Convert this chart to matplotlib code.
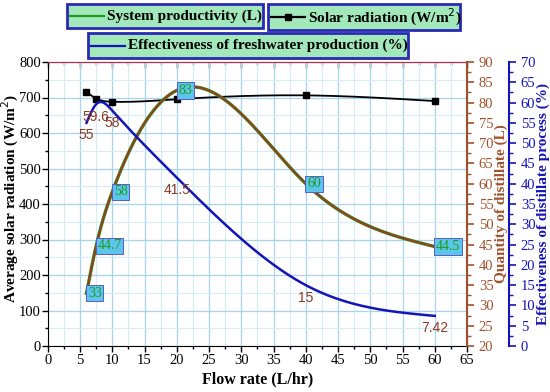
import numpy as np
import matplotlib
matplotlib.use("Agg")
import matplotlib.pyplot as plt
from matplotlib.lines import Line2D
from matplotlib.patches import Rectangle
from matplotlib.ticker import MultipleLocator, NullFormatter

flow = [6, 7.5, 10, 20, 40, 60]
solar = [716, 697, 688, 695, 706, 690]
productivity = [33, 44.7, 58, 83, 60, 44.5]
prod_labels = ["33", "44.7", "58", "83", "60", "44.5"]
effectiveness = [55, 59.6, 58, 41.5, 15, 7.42]
eff_labels = ["55", "59.6", "58", "41.5", "15", "7.42"]

legend_texts = ["System productivity (L)", "Solar radiation (W/m$^{2}$)",
                "Effectiveness of freshwater production (%)"]


def natural_spline(x, y, xs):
    x = np.asarray(x, float); y = np.asarray(y, float)
    n = len(x)
    h = np.diff(x)
    A = np.zeros((n, n)); b = np.zeros(n)
    A[0, 0] = 1; A[-1, -1] = 1
    for i in range(1, n - 1):
        A[i, i - 1] = h[i - 1]
        A[i, i] = 2 * (h[i - 1] + h[i])
        A[i, i + 1] = h[i]
        b[i] = 6 * ((y[i + 1] - y[i]) / h[i] - (y[i] - y[i - 1]) / h[i - 1])
    M = np.linalg.solve(A, b)
    out = np.empty_like(xs)
    for k, xv in enumerate(xs):
        i = min(max(np.searchsorted(x, xv) - 1, 0), n - 2)
        t1 = x[i + 1] - xv; t0 = xv - x[i]
        out[k] = (M[i] * t1 ** 3 + M[i + 1] * t0 ** 3) / (6 * h[i]) \
            + (y[i] / h[i] - M[i] * h[i] / 6) * t1 \
            + (y[i + 1] / h[i] - M[i + 1] * h[i] / 6) * t0
    return out


serif = "Liberation Serif"
brown = "#a0522d"
brown_txt = "#8b3a22"
blue = "#1414b8"
green = "#1f9a1f"

fig = plt.figure(figsize=(5.5, 3.92), dpi=100)
L, R, B, T = 47.8 / 550, 467 / 550, 1 - 346 / 392, 1 - 62 / 392
ax = fig.add_axes([L, B, R - L, T - B])
ax2 = ax.twinx()
ax3 = ax.twinx()
ax3.spines["right"].set_position(("axes", (509 - 47.8) / (467 - 47.8)))

ax.set_xlim(0, 65)
ax.set_ylim(0, 800)
ax2.set_ylim(20, 90)
ax3.set_ylim(0, 70)

# grid
ax.xaxis.set_major_locator(MultipleLocator(5))
ax.xaxis.set_minor_locator(MultipleLocator(2.5))
ax.yaxis.set_major_locator(MultipleLocator(100))
ax.yaxis.set_minor_locator(MultipleLocator(50))
ax.grid(which="major", color="#a9d2ee", lw=0.9)
ax.grid(which="minor", color="#d6edf9", lw=0.8)
ax.set_axisbelow(True)

xs = np.linspace(6, 60, 400)
# solar radiation
ax.plot(xs, natural_spline(flow, solar, xs), color="black", lw=1.3, zorder=3)
ax.plot(flow, solar, ls="none", marker="s", ms=5, color="black", zorder=4)

# productivity
py = natural_spline(flow, productivity, xs)
ax2.plot(xs, py, color=green, lw=2.4, zorder=3)
ax2.plot(xs, py, color="#9a3d1e", lw=1.5, zorder=3)
for xv, yv, lab in zip(flow, productivity, prod_labels):
    ax2.annotate(lab, (xv, yv), xytext=(1, 0), textcoords="offset points",
                 ha="left", va="center", fontsize=10, family=serif, color=green,
                 bbox=dict(boxstyle="square,pad=0.12", fc="#5cc6ea", ec="#5a5ac8", lw=0.7),
                 zorder=6)

# effectiveness
ax3.plot(xs, natural_spline(flow, effectiveness, xs), color=blue, lw=1.8, zorder=3)
for xv, yv, lab in zip(flow, effectiveness, eff_labels):
    ax3.annotate(lab, (xv, yv), xytext=(0, -9), textcoords="offset points",
                 ha="center", va="center", fontsize=10, family="Liberation Sans",
                 color=brown_txt, zorder=6)

# spines / ticks
for a in (ax, ax2, ax3):
    a.patch.set_visible(False)
ax.spines["top"].set_color("#b03050")
ax.spines["left"].set_color("black")
ax.spines["bottom"].set_color("black")
ax.tick_params(axis="x", which="major", direction="out", length=4, width=1, labelsize=10.5, pad=2)
ax.tick_params(axis="x", which="minor", direction="out", length=2.5, width=1)
ax.tick_params(axis="y", which="major", direction="out", length=4, width=1, labelsize=10.5, pad=1)
ax.tick_params(axis="y", which="minor", direction="out", length=2.5, width=1)
for lab in ax.get_xticklabels() + ax.get_yticklabels():
    lab.set_family(serif)

top = ax.secondary_xaxis("top")
top.xaxis.set_major_locator(MultipleLocator(5))
top.xaxis.set_minor_locator(MultipleLocator(2.5))
top.xaxis.set_major_formatter(NullFormatter())
top.spines["top"].set_color("#b03050")
top.tick_params(axis="x", which="major", direction="in", length=4, width=1, color="black")
top.tick_params(axis="x", which="minor", direction="in", length=2.5, width=1, color="black")

ax2.spines["right"].set_color(brown)
ax2.spines["right"].set_linewidth(1.5)
ax2.yaxis.set_major_locator(MultipleLocator(5))
ax2.yaxis.set_minor_locator(MultipleLocator(2.5))
ax2.tick_params(axis="y", which="major", colors=brown, length=5, width=1.2, labelsize=10.5)
ax2.tick_params(axis="y", which="minor", colors=brown, length=3, width=1)
for lab in ax2.get_yticklabels():
    lab.set_family(serif)

ax3.spines["right"].set_color(blue)
ax3.spines["right"].set_linewidth(1.5)
ax3.yaxis.set_major_locator(MultipleLocator(5))
ax3.yaxis.set_minor_locator(MultipleLocator(2.5))
ax3.tick_params(axis="y", which="major", colors=blue, length=5, width=1.2, labelsize=10.5)
ax3.tick_params(axis="y", which="minor", colors=blue, length=3, width=1)
for lab in ax3.get_yticklabels():
    lab.set_family(serif)
for a in (ax2, ax3):
    a.spines["top"].set_visible(False)
    a.spines["left"].set_visible(False)
    a.spines["bottom"].set_visible(False)

ax.set_xlabel("Flow rate (L/hr)", family=serif, fontweight="bold", fontsize=11.5, labelpad=3)
ax.set_ylabel("Average solar radiation (W/m$^{2}$)", family=serif, fontweight="bold", fontsize=11)
ax.yaxis.set_label_coords((21 - 47.8) / 419.2, 0.52)
ax2.set_ylabel("Quantity of distillate (L)", family=serif, fontweight="bold", fontsize=11,
               color=brown, labelpad=1)
ax3.set_ylabel("Effectiveness of distillate process (%)", family=serif, fontweight="bold",
               fontsize=11, color=blue, labelpad=1)

# legend boxes (figure pixel coords -> fractions)
W, H = 550, 392


def legend_box(x0, x1, y0, y1, lx0, lx1, color, text, marker=None):
    fig.patches.append(Rectangle((x0 / W, 1 - y1 / H), (x1 - x0) / W, (y1 - y0) / H,
                                 transform=fig.transFigure, fc="#a2e8ba", ec="#2a2ab4", lw=2.0))
    yc = 1 - (y0 + y1) / 2 / H
    fig.lines.append(Line2D([lx0 / W, lx1 / W], [yc, yc], transform=fig.transFigure,
                            color=color, lw=1.6, marker=None))
    if marker:
        fig.lines.append(Line2D([(lx0 + lx1) / 2 / W], [yc], transform=fig.transFigure,
                                color=color, marker=marker, ms=5, ls="none"))
    fig.text(lx1 / W + 3 / W, yc, text, ha="left", va="center", family=serif,
             fontweight="bold", fontsize=11)


legend_box(67, 263, 4, 28, 70, 104, green, legend_texts[0])
legend_box(268, 460, 4, 30, 271, 305, "black", legend_texts[1], marker="s")
legend_box(88, 408, 33, 58, 91, 125, blue, legend_texts[2])

fig.savefig("out.png", dpi=100)
